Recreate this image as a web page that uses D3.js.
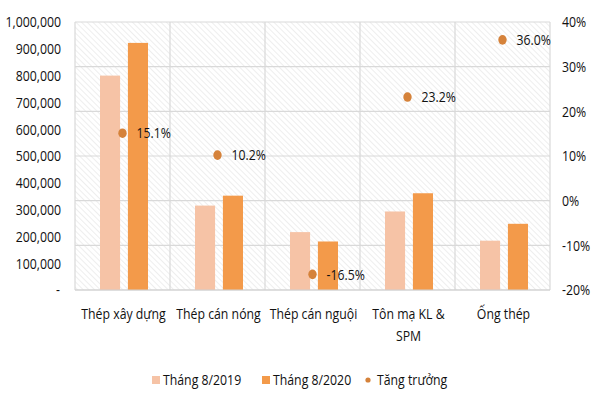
<!DOCTYPE html>
<html>
<head>
<meta charset="utf-8">
<script src="https://cdn.jsdelivr.net/npm/d3@7"></script>
<style>
    body { margin: 0; background: #fff; }
    text { font-family: 'Open Sans', 'Noto Sans', sans-serif; fill: #111; }
</style>
</head>
<body>
<div id="chart"></div>
<script>
const categories = ['Thép xây dựng', 'Thép cán nóng', 'Thép cán nguội', 'Tôn mạ KL & SPM', 'Ống thép']
const categoryLines = [['Thép xây dựng'], ['Thép cán nóng'], ['Thép cán nguội'], ['Tôn mạ KL &', 'SPM'], ['Ống thép']]
const series = ['Tháng 8/2019', 'Tháng 8/2020']
const values2019 = [800000, 315000, 216000, 293000, 184000]
const values2020 = [922000, 352000, 181000, 361000, 247000]
const growth = [15.1, 10.2, -16.5, 23.2, 36.0]
const growthName = 'Tăng trưởng'
const leftTicks = [0, 100000, 200000, 300000, 400000, 500000, 600000, 700000, 800000, 900000, 1000000]
const rightTicks = [-20, -10, 0, 10, 20, 30, 40]

const colors = { '2019': '#f6c3a6', '2020': '#f39a4a', dot: '#d5823a' }

const width = 600
const height = 400
// plot area
const margin = { top: 22, right: 50, bottom: 110, left: 75 }
const innerW = width - margin.left - margin.right
const innerH = height - margin.top - margin.bottom
const fontSize = 15
// the original uses a condensed face, so squeeze Open Sans horizontally
const squeezeX = 0.82

const svg = d3.select('#chart')
    .append('svg')
    .attr('width', width)
    .attr('height', height)

// hatched background of the plot area
const defs = svg.append('defs')
defs.append('pattern')
    .attr('id', 'hatch')
    .attr('patternUnits', 'userSpaceOnUse')
    .attr('width', 4)
    .attr('height', 4)
    .attr('patternTransform', 'rotate(-45)')
    .append('line')
    .attr('x1', 0).attr('y1', 0)
    .attr('x2', 0).attr('y2', 4)
    .attr('stroke', '#e2e2e2')
    .attr('stroke-width', 1.2)

const g = svg.append('g')
    .attr('transform', `translate(${margin.left},${margin.top})`)

const x0 = d3.scaleBand().domain(categories).range([0, innerW])
const x1 = d3.scaleBand().domain(series).range([25, 73]).paddingInner(0.28)
const yLeft = d3.scaleLinear().domain([0, 1000000]).range([innerH, 0])
const yRight = d3.scaleLinear().domain([-20, 40]).range([innerH, 0])

g.append('rect')
    .attr('width', innerW)
    .attr('height', innerH)
    .attr('fill', 'url(#hatch)')

// gridlines follow the right axis
g.append('g')
    .selectAll('line')
    .data(rightTicks)
    .enter()
    .append('line')
    .attr('x1', 0)
    .attr('x2', innerW)
    .attr('y1', d => yRight(d))
    .attr('y2', d => yRight(d))
    .attr('stroke', '#d9d9d9')
    .attr('stroke-width', 1.2)

g.append('g')
    .selectAll('line')
    .data(categories.concat([null]))
    .enter()
    .append('line')
    .attr('x1', d => d === null ? innerW : x0(d))
    .attr('x2', d => d === null ? innerW : x0(d))
    .attr('y1', 0)
    .attr('y2', innerH)
    .attr('stroke', '#d9d9d9')
    .attr('stroke-width', 1.2)

// bars
const rows = categories.map((c, i) => ({ cat: c, v: [values2019[i], values2020[i]], growth: growth[i] }))

const groups = g.append('g')
    .selectAll('g')
    .data(rows)
    .enter()
    .append('g')
    .attr('transform', d => `translate(${x0(d.cat)},0)`)

groups.selectAll('rect')
    .data(d => series.map((s, j) => ({ s, value: d.v[j] })))
    .enter()
    .append('rect')
    .attr('x', d => x1(d.s))
    .attr('width', x1.bandwidth())
    .attr('y', d => yLeft(d.value))
    .attr('height', d => innerH - yLeft(d.value))
    .attr('fill', (d, j) => j === 0 ? colors['2019'] : colors['2020'])

// growth dots + labels
const dots = g.append('g')
    .selectAll('g')
    .data(rows)
    .enter()
    .append('g')
    .attr('transform', d => `translate(${x0(d.cat) + x0.bandwidth() / 2},${yRight(d.growth)})`)

dots.append('ellipse')
    .attr('rx', 4.2)
    .attr('ry', 4.8)
    .attr('fill', colors.dot)

dots.append('text')
    .attr('x', 14)
    .attr('dy', '0.35em')
    .attr('font-size', fontSize)
    .text(d => `${d.growth.toFixed(1)}%`)

// left axis
const fmt = d3.format(',')
const leftAxis = g.append('g')
    .call(d3.axisLeft(yLeft).tickValues(leftTicks).tickSize(0).tickPadding(14)
        .tickFormat(d => d === 0 ? '-' : fmt(d)))
leftAxis.select('.domain').remove()
leftAxis.selectAll('text').attr('font-size', fontSize).attr('fill', '#111')
leftAxis.selectAll('.tick').filter(d => d === 0).select('text').attr('x', -15)

// right axis
const rightAxis = g.append('g')
    .attr('transform', `translate(${innerW},0)`)
    .call(d3.axisRight(yRight).tickValues(rightTicks).tickSize(0).tickPadding(12)
        .tickFormat(d => `${d}%`))
rightAxis.select('.domain').remove()
rightAxis.selectAll('text').attr('font-size', fontSize).attr('fill', '#111')

// bottom baseline
g.append('line')
    .attr('x1', 0).attr('x2', innerW)
    .attr('y1', innerH).attr('y2', innerH)
    .attr('stroke', '#d0d0d0')
    .attr('stroke-width', 1.2)

// category labels
const catLabels = g.append('g')
    .selectAll('text')
    .data(categories)
    .enter()
    .append('text')
    .attr('x', d => x0(d) + x0.bandwidth() / 2 + 1)
    .attr('y', innerH + 24)
    .attr('text-anchor', 'middle')
    .attr('font-size', fontSize)

catLabels.selectAll('tspan')
    .data((d, i) => categoryLines[i])
    .enter()
    .append('tspan')
    .attr('x', function () { return d3.select(this.parentNode).attr('x') })
    .attr('dy', (d, j) => j === 0 ? '0.35em' : '1.45em')
    .text(d => d)

// legend
const legendItems = [
    { name: series[0], color: colors['2019'], shape: 'rect', x: 152 },
    { name: series[1], color: colors['2020'], shape: 'rect', x: 262 },
    { name: growthName, color: colors.dot, shape: 'dot', x: 366 }
]
const legend = svg.append('g')
    .selectAll('g')
    .data(legendItems)
    .enter()
    .append('g')
    .attr('transform', d => `translate(${d.x},380)`)

legend.filter(d => d.shape === 'rect')
    .append('rect')
    .attr('x', 0).attr('y', -4)
    .attr('width', 8).attr('height', 8)
    .attr('fill', d => d.color)

legend.filter(d => d.shape === 'dot')
    .append('circle')
    .attr('cx', 2).attr('cy', 0)
    .attr('r', 2.6)
    .attr('fill', d => d.color)

legend.append('text')
    .attr('x', 11)
    .attr('dy', '0.35em')
    .attr('font-size', fontSize)
    .text(d => d.name)

// squeeze every text around its own anchor point
svg.selectAll('text').each(function () {
    const t = d3.select(this)
    const x = +t.attr('x') || 0
    const y = +t.attr('y') || 0
    t.attr('transform', `translate(${x},${y}) scale(${squeezeX},1) translate(${-x},${-y})`)
})
</script>
</body>
</html>
